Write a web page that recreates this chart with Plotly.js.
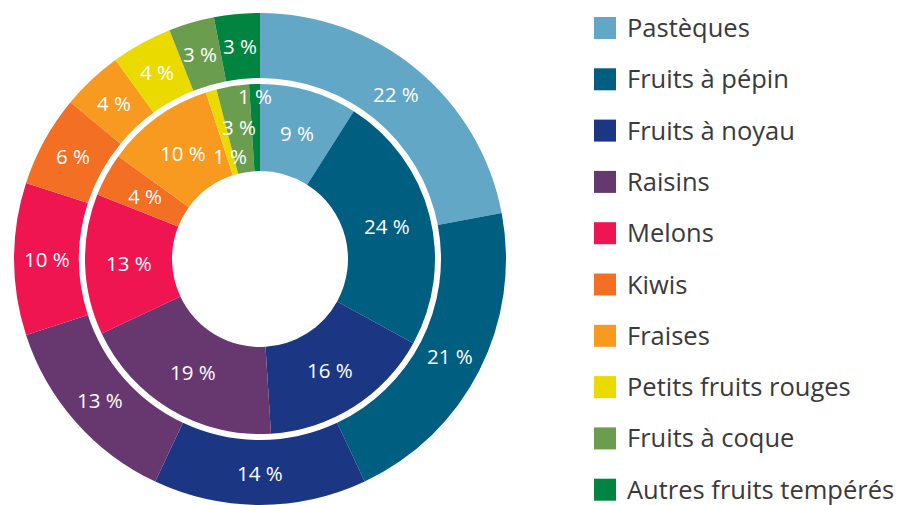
<!DOCTYPE html>
<html>
<head>
<meta charset="utf-8">
<script src="https://cdn.plot.ly/plotly-3.0.1.min.js"></script>
<style>html,body{margin:0;padding:0;background:#fff;}#chart{width:916px;height:505px;}</style>
</head>
<body>
<div id="chart"></div>
<script>
// ---- Data ----
const categories = ["Pastèques", "Fruits à pépin", "Fruits à noyau", "Raisins", "Melons", "Kiwis", "Fraises", "Petits fruits rouges", "Fruits à coque", "Autres fruits tempérés"];
const outerValues = [22, 21, 14, 13, 10, 6, 4, 4, 3, 3];
const innerValues = [9, 24, 16, 19, 13, 4, 10, 1, 3, 1];
const colors = ["#62A7C5", "#005E80", "#1B3784", "#673870", "#EE1551", "#F36F24", "#F79A1F", "#EADA00", "#6A9E4E", "#00843F"];

// ---- Geometry / style ----
const W = 916, H = 505;
const cx = 260, cy = 259;
const R_OUT = 246, HOLE_OUT = 181;
const R_IN = 175, HOLE_IN = 88;
const FONT = "Open Sans, sans-serif";
// label radius overrides for the thin inner slices (style only)
const innerLabelRadius = {7: 107, 8: 134, 9: 163};

function domainFor(r) {
  return {
    x: [(cx - r) / W, (cx + r) / W],
    y: [Math.max(0, (H - cy - r) / H), Math.min(1, (H - cy + r) / H)]
  };
}

const outerTrace = {
  type: "pie",
  labels: categories,
  values: outerValues,
  marker: {colors: colors, line: {width: 0}},
  sort: false,
  direction: "clockwise",
  rotation: 0,
  hole: HOLE_OUT / R_OUT,
  domain: domainFor(R_OUT),
  textinfo: "none",
  showlegend: false,
  hoverinfo: "label+value"
};
const innerTrace = {
  type: "pie",
  labels: categories,
  values: innerValues,
  marker: {colors: colors, line: {width: 0}},
  sort: false,
  direction: "clockwise",
  rotation: 0,
  hole: HOLE_IN / R_IN,
  domain: domainFor(R_IN),
  textinfo: "none",
  showlegend: false,
  hoverinfo: "label+value"
};

function sliceLabels(values, radiusFn) {
  const total = values.reduce((a, b) => a + b, 0);
  let cum = 0;
  return values.map((v, i) => {
    const mid = (cum + v / 2) / total * 2 * Math.PI;
    cum += v;
    const r = radiusFn(i);
    const px = cx + r * Math.sin(mid);
    const py = cy - r * Math.cos(mid);
    return {
      xref: "paper", yref: "paper",
      x: px / W, y: 1 - py / H,
      xanchor: "center", yanchor: "middle",
      text: v + " %",
      showarrow: false,
      borderpad: 0,
      font: {family: FONT, size: 20.5, color: "#ffffff"}
    };
  });
}

const annotations = []
  .concat(sliceLabels(outerValues, () => (HOLE_OUT + R_OUT) / 2))
  .concat(sliceLabels(innerValues, i => innerLabelRadius[i] !== undefined ? innerLabelRadius[i] : (HOLE_IN + R_IN) / 2));

// ---- Custom legend ----
const LEG_X = 594, LEG_SQ = 22, LEG_Y0 = 28, LEG_STEP = 51.3, LEG_TX = 626;
const shapes = [];
categories.forEach((c, i) => {
  const yc = LEG_Y0 + i * LEG_STEP;
  shapes.push({
    type: "rect", xref: "paper", yref: "paper",
    x0: LEG_X / W, x1: (LEG_X + LEG_SQ) / W,
    y0: 1 - (yc + LEG_SQ / 2) / H, y1: 1 - (yc - LEG_SQ / 2) / H,
    fillcolor: colors[i], line: {width: 0}
  });
  annotations.push({
    xref: "paper", yref: "paper",
    x: LEG_TX / W, y: 1 - (yc - 1) / H,
    xanchor: "left", yanchor: "middle",
    text: c, showarrow: false,
    borderpad: 0,
    font: {family: FONT, size: 25.5, color: "#3a3a3a"}
  });
});

const layout = {
  width: W, height: H,
  margin: {l: 0, r: 0, t: 0, b: 0},
  paper_bgcolor: "#ffffff",
  showlegend: false,
  annotations: annotations,
  shapes: shapes
};

Plotly.newPlot("chart", [outerTrace, innerTrace], layout, {displayModeBar: false, staticPlot: true});
</script>
</body>
</html>
